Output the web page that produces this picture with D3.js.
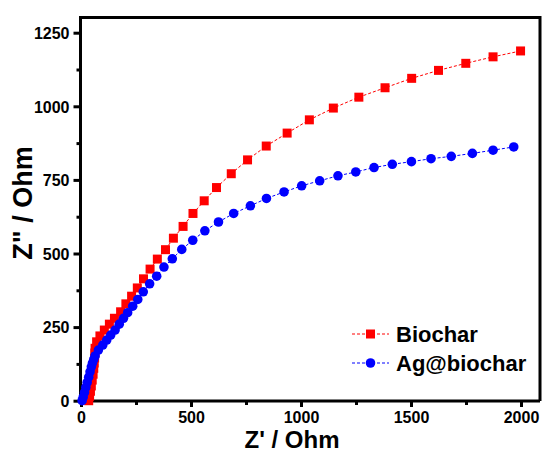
<!DOCTYPE html>
<html>
<head>
<meta charset="utf-8">
<script src="https://cdn.jsdelivr.net/npm/d3@7/dist/d3.min.js"></script>
<style>
  html, body { margin: 0; padding: 0; background: #fff; }
  svg { display: block; }
  text { font-family: Arial, "Liberation Sans", sans-serif; font-weight: bold; fill: #000; }
</style>
</head>
<body>
<svg id="chart" width="542" height="452"></svg>
<script>
// Nyquist data: real part Z' and imaginary part -Z'' (Ohm)
const biocharX = [35, 39, 43, 47, 51, 55, 58, 60, 62, 63, 64, 71, 86, 106, 129, 152, 180, 204, 230, 256, 284, 314, 347, 384, 420, 464, 509, 560, 616, 683, 757, 842, 937, 1038, 1147, 1263, 1382, 1503, 1625, 1749, 1873, 1998];
const biocharY = [0, 15, 32, 50, 70, 90, 110, 128, 145, 162, 178, 200, 220, 240, 260, 280, 302, 329, 355, 383, 414, 447, 481, 513, 552, 592, 636, 679, 724, 771, 818, 865, 909, 954, 994, 1031, 1063, 1095, 1122, 1146, 1168, 1188];

const agX = [5, 10, 16, 22, 28, 35, 41, 47, 52, 58, 64, 79, 99, 117, 135, 155, 174, 193, 212, 235, 258, 283, 312, 344, 377, 415, 458, 508, 563, 625, 694, 770, 843, 923, 1003, 1085, 1168, 1249, 1332, 1415, 1502, 1591, 1683, 1779, 1873, 1967];
const agY = [0, 12, 28, 45, 62, 80, 98, 115, 128, 140, 152, 172, 189, 206, 223, 240, 260, 280, 299, 321, 344, 370, 397, 423, 454, 482, 514, 545, 577, 607, 636, 662, 687, 709, 730, 747, 764, 777, 792, 803, 812, 822, 830, 840, 851, 862];

const xTicks = [0, 500, 1000, 1500, 2000];
const xMinor = [250, 750, 1250, 1750];
const yTicks = [0, 250, 500, 750, 1000, 1250];
const yMinor = [125, 375, 625, 875, 1125];

const seriesNames = ["Biochar", "Ag@biochar"];
const seriesColors = ["#ff0000", "#0000ff"];

const svg = d3.select("#chart");

const x = d3.scaleLinear().domain([0, 2000]).range([81, 521]);
const y = d3.scaleLinear().domain([0, 1250]).range([400.7, 32.7]);

const frameLeft = 80.5, frameRight = 540, frameTop = 17.5, frameBottom = 401;

// plot frame (top and right sides)
svg.append("path")
  .attr("d", `M${frameLeft},${frameTop}H${frameRight}V${frameBottom}`)
  .attr("fill", "none").attr("stroke", "#000").attr("stroke-width", 3);

// bottom axis
const xAxis = svg.append("g").attr("transform", `translate(0,${frameBottom})`);
xAxis.call(d3.axisBottom(x).tickValues(xTicks).tickSize(6).tickPadding(5).tickFormat(d3.format("d")));
xAxis.append("g").call(d3.axisBottom(x).tickValues(xMinor).tickSize(4).tickFormat(""));
xAxis.selectAll(".domain").remove();
xAxis.selectAll("line").attr("stroke", "#000").attr("stroke-width", 3);
xAxis.selectAll("text").style("font-size", "16px").style("font-family", "Arial, 'Liberation Sans', sans-serif").style("font-weight", "bold").attr("fill", "#000");
xAxis.append("line").attr("x1", frameLeft - 1.5).attr("x2", frameRight).attr("y1", 0).attr("y2", 0)
  .attr("stroke", "#000").attr("stroke-width", 3);

// left axis
const yAxis = svg.append("g").attr("transform", `translate(${frameLeft},0)`);
yAxis.call(d3.axisLeft(y).tickValues(yTicks).tickSize(7).tickPadding(4).tickFormat(d3.format("d")));
yAxis.append("g").call(d3.axisLeft(y).tickValues(yMinor).tickSize(4).tickFormat(""));
yAxis.selectAll(".domain").remove();
yAxis.selectAll("line").attr("stroke", "#000").attr("stroke-width", 3);
yAxis.selectAll("text").style("font-size", "16px").style("font-family", "Arial, 'Liberation Sans', sans-serif").style("font-weight", "bold").attr("fill", "#000").attr("dy", "0.36em");
yAxis.append("line").attr("x1", 0).attr("x2", 0).attr("y1", frameTop - 1.5).attr("y2", frameBottom + 1.5)
  .attr("stroke", "#000").attr("stroke-width", 3);

// axis titles
svg.append("text").attr("x", 292).attr("y", 448).attr("text-anchor", "middle")
  .style("font-size", "24px").text("Z' / Ohm");
svg.append("text").attr("transform", "translate(32,203) rotate(-90)").attr("text-anchor", "middle")
  .style("font-size", "27px").text("Z\" / Ohm");

// series
const plot = svg.append("g");
const series = [
  { xs: biocharX, ys: biocharY, color: seriesColors[0], shape: d3.symbolSquare, size: 81 },
  { xs: agX, ys: agY, color: seriesColors[1], shape: d3.symbolCircle, size: 72 }
];

series.forEach(s => {
  const pts = s.xs.map((v, i) => [v, s.ys[i]]);
  plot.append("path")
    .attr("d", d3.line().x(d => x(d[0])).y(d => y(d[1]))(pts))
    .attr("fill", "none").attr("stroke", s.color).attr("stroke-width", 1)
    .attr("stroke-dasharray", "3,2");
  plot.append("g").selectAll("path").data(pts).join("path")
    .attr("transform", d => `translate(${x(d[0])},${y(d[1])})`)
    .attr("d", d3.symbol().type(s.shape).size(s.size))
    .attr("fill", s.color);
});

// legend
const legend = svg.append("g");
const legendRows = [334, 363];
series.forEach((s, i) => {
  const ly = legendRows[i];
  legend.append("line").attr("x1", 352).attr("x2", 389).attr("y1", ly).attr("y2", ly)
    .attr("stroke", s.color).attr("stroke-width", 1).attr("stroke-dasharray", "3,2");
  legend.append("path").attr("transform", `translate(370.5,${ly})`)
    .attr("d", d3.symbol().type(s.shape).size(s.size)).attr("fill", s.color);
  legend.append("text").attr("x", 396).attr("y", ly + 7.5)
    .style("font-size", "22px").text(seriesNames[i]);
});
</script>
</body>
</html>
